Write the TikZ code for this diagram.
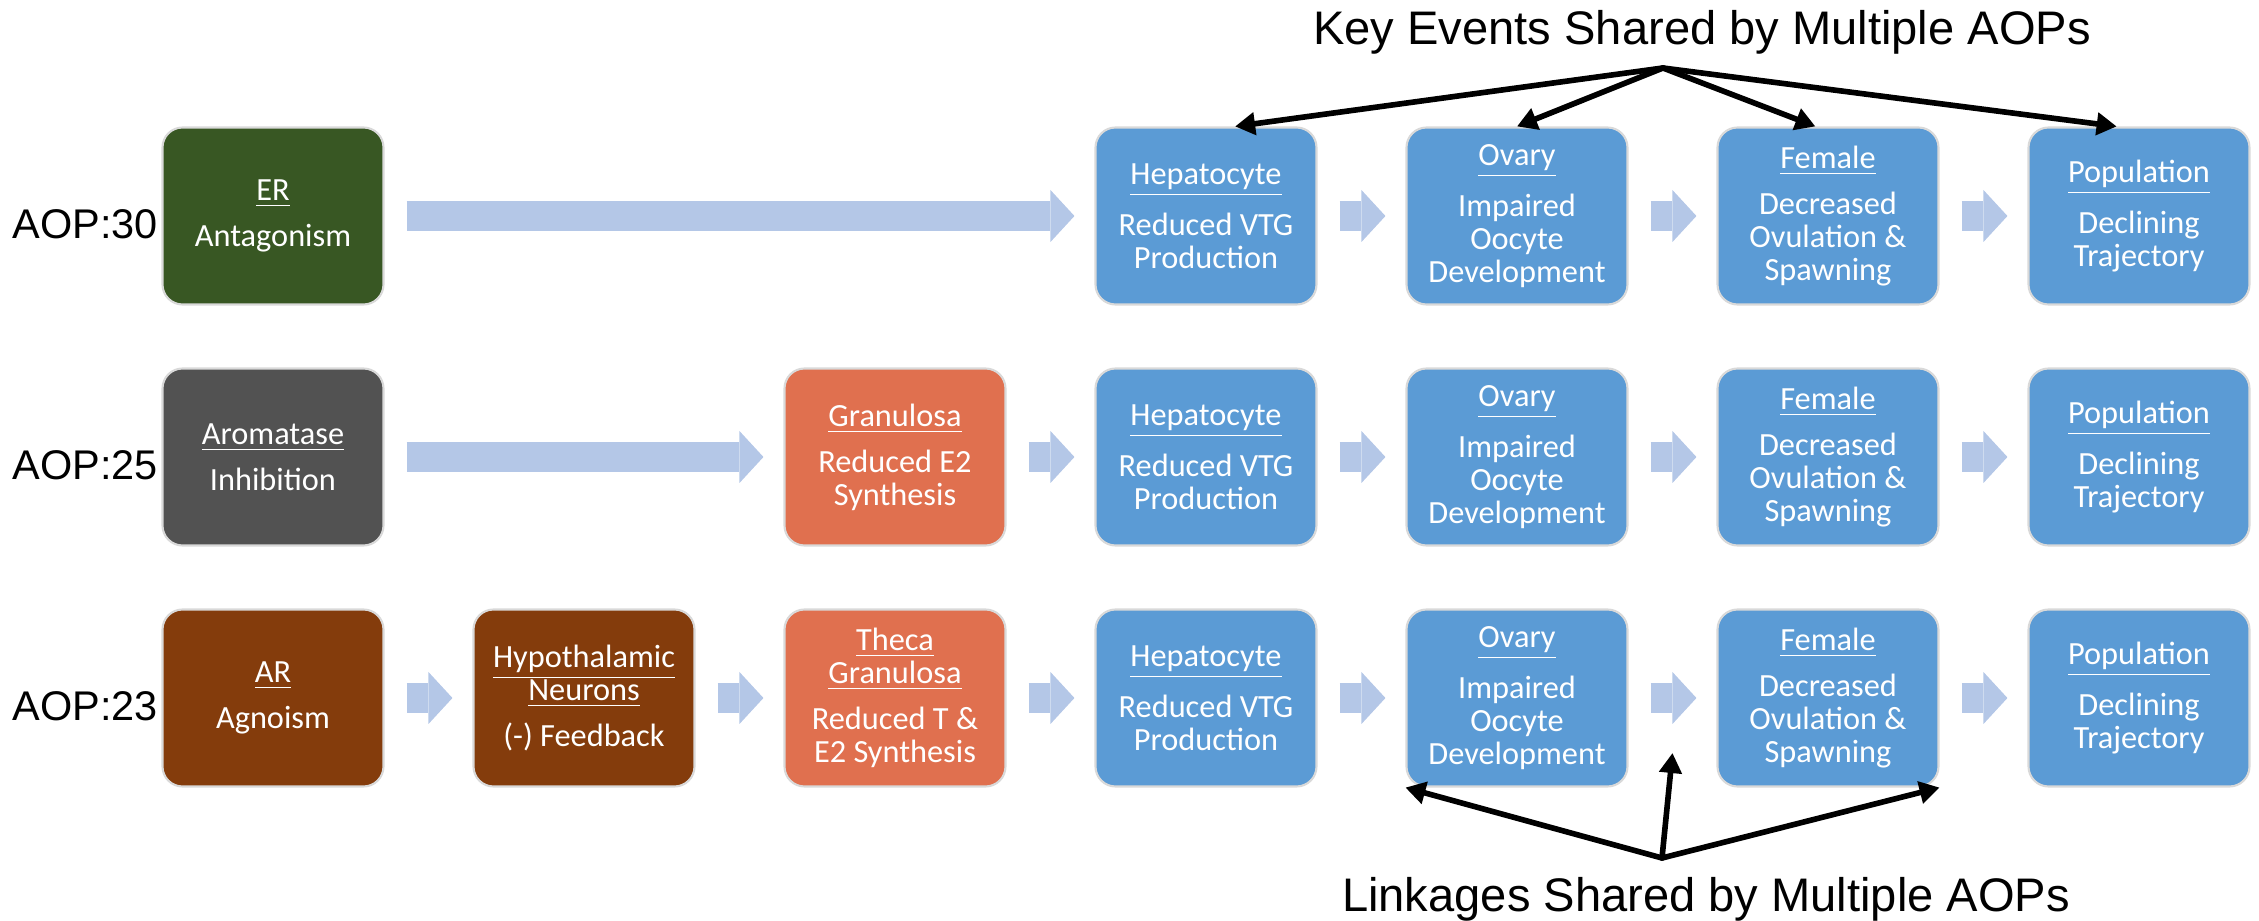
\documentclass[tikz,border=0pt]{standalone}
\usepackage{fontspec}
\setmainfont{Carlito}
\newfontfamily\labelfont{Liberation Sans}
\usetikzlibrary{arrows.meta,positioning,calc}
\definecolor{erGreen}{HTML}{385723}
\definecolor{aromGray}{HTML}{525252}
\definecolor{arBrown}{HTML}{843C0C}
\definecolor{granRed}{HTML}{E0704F}
\definecolor{keBlue}{HTML}{5B9BD5}
\definecolor{linkBlue}{HTML}{B4C7E7}
\tikzset{>={Triangle[length=0.2cm,width=0.22cm]}}
\tikzset{
  event/.style={draw=white!85!black, line width=0.6pt, rounded corners=0.2cm,
    minimum width=2.21cm, minimum height=1.77cm, inner sep=1pt, align=center,
    text=white, font=\fontsize{9.2}{9.4}\selectfont},
  link/.style={line width=0.3cm, linkBlue,
    -{Triangle[length=0.24cm,width=0.52cm,line width=0pt]},
    shorten <=0.22cm, shorten >=0.2cm},
  shared/.style={line width=1.6pt, line cap=round, ->},
  aoplabel/.style={font=\labelfont\fontsize{11.8}{12}\selectfont, inner sep=0pt},
  caption/.style={font=\labelfont\fontsize{13.4}{14}\selectfont, inner sep=0pt}
}
\newcommand\ttl[1]{\underline{#1}}

\begin{document}
\begin{tikzpicture}

  \newcommand\X{3.11}
  \newcommand\Y{2.41}

  \useasboundingbox (-2.73,-7.05) rectangle (19.86,2.16);

  % AOP:30
  \node[event, fill=erGreen] (er) at (0*\X, 0*\Y) {\ttl{ER}\\[3.7pt]Antagonism};
  \node[event, fill=keBlue] (hep1) at (3*\X, 0*\Y) {\ttl{Hepatocyte}\\[3.7pt]Reduced VTG\\Production};
  \node[event, fill=keBlue] (ov1) at (4*\X, 0*\Y) {\ttl{Ovary}\\[3.7pt]Impaired\\Oocyte\\Development};
  \node[event, fill=keBlue] (fem1) at (5*\X, 0*\Y) {\ttl{Female}\\[3.7pt]Decreased\\Ovulation \&\\Spawning};
  \node[event, fill=keBlue] (pop1) at (6*\X, 0*\Y) {\ttl{Population}\\[3.7pt]Declining\\Trajectory};

  % AOP:25
  \node[event, fill=aromGray] (arom) at (0*\X, -1*\Y) {\ttl{Aromatase}\\[3.7pt]Inhibition};
  \node[event, fill=granRed] (gran) at (2*\X, -1*\Y) {\ttl{Granulosa}\\[3.7pt]Reduced E2\\Synthesis};
  \node[event, fill=keBlue] (hep2) at (3*\X, -1*\Y) {\ttl{Hepatocyte}\\[3.7pt]Reduced VTG\\Production};
  \node[event, fill=keBlue] (ov2) at (4*\X, -1*\Y) {\ttl{Ovary}\\[3.7pt]Impaired\\Oocyte\\Development};
  \node[event, fill=keBlue] (fem2) at (5*\X, -1*\Y) {\ttl{Female}\\[3.7pt]Decreased\\Ovulation \&\\Spawning};
  \node[event, fill=keBlue] (pop2) at (6*\X, -1*\Y) {\ttl{Population}\\[3.7pt]Declining\\Trajectory};

  % AOP:23
  \node[event, fill=arBrown] (ar) at (0*\X, -2*\Y) {\ttl{AR}\\[3.7pt]Agnoism};
  \node[event, fill=arBrown] (hypo) at (1*\X, -2*\Y) {\ttl{Hypothalamic}\\\ttl{Neurons}\\[3.7pt](-) Feedback};
  \node[event, fill=granRed] (theca) at (2*\X, -2*\Y) {\ttl{Theca}\\\ttl{Granulosa}\\[3.7pt]Reduced T \&\\E2 Synthesis};
  \node[event, fill=keBlue] (hep3) at (3*\X, -2*\Y) {\ttl{Hepatocyte}\\[3.7pt]Reduced VTG\\Production};
  \node[event, fill=keBlue] (ov3) at (4*\X, -2*\Y) {\ttl{Ovary}\\[3.7pt]Impaired\\Oocyte\\Development};
  \node[event, fill=keBlue] (fem3) at (5*\X, -2*\Y) {\ttl{Female}\\[3.7pt]Decreased\\Ovulation \&\\Spawning};
  \node[event, fill=keBlue] (pop3) at (6*\X, -2*\Y) {\ttl{Population}\\[3.7pt]Declining\\Trajectory};

  \node[aoplabel, left=0.03cm of er, yshift=-0.08cm] (aop30) {AOP:30};
  \node[aoplabel, left=0.03cm of arom, yshift=-0.08cm] (aop25) {AOP:25};
  \node[aoplabel, left=0.03cm of ar, yshift=-0.08cm] (aop23) {AOP:23};

  % block arrows
  \draw[link] (er) -- (hep1);
  \draw[link] (hep1) -- (ov1);
  \draw[link] (ov1) -- (fem1);
  \draw[link] (fem1) -- (pop1);

  \draw[link] (arom) -- (gran);
  \draw[link] (gran) -- (hep2);
  \draw[link] (hep2) -- (ov2);
  \draw[link] (ov2) -- (fem2);
  \draw[link] (fem2) -- (pop2);

  \draw[link] (ar) -- (hypo);
  \draw[link] (hypo) -- (theca);
  \draw[link] (theca) -- (hep3);
  \draw[link] (hep3) -- (ov3);
  \draw[link] (ov3) -- (fem3);
  \draw[link] (fem3) -- (pop3);

  % shared key events
  \node[caption, anchor=base] (keycap) at (14.29, 1.71) {Key Events Shared by Multiple AOPs};
  \coordinate (keyev) at (13.90, 1.48);
  \draw[shared] (keyev) -- (hep1.72);
  \draw[shared] (keyev) -- (ov1.north);
  \draw[shared] (keyev) -- (fem1.98);
  \draw[shared] (keyev) -- (pop1.104);

  % shared linkages
  \node[caption, anchor=base] (linkcap) at (14.33, -6.96) {Linkages Shared by Multiple AOPs};
  \coordinate (linkev) at (13.89, -6.42);
  \coordinate (lk) at ($(ov3.east)!0.5!(fem3.west)+(0,-0.55)$);
  \draw[shared] (linkev) -- (ov3.south west);
  \draw[shared] (linkev) -- (lk);
  \draw[shared] (linkev) -- (fem3.south east);

\end{tikzpicture}
\end{document}
